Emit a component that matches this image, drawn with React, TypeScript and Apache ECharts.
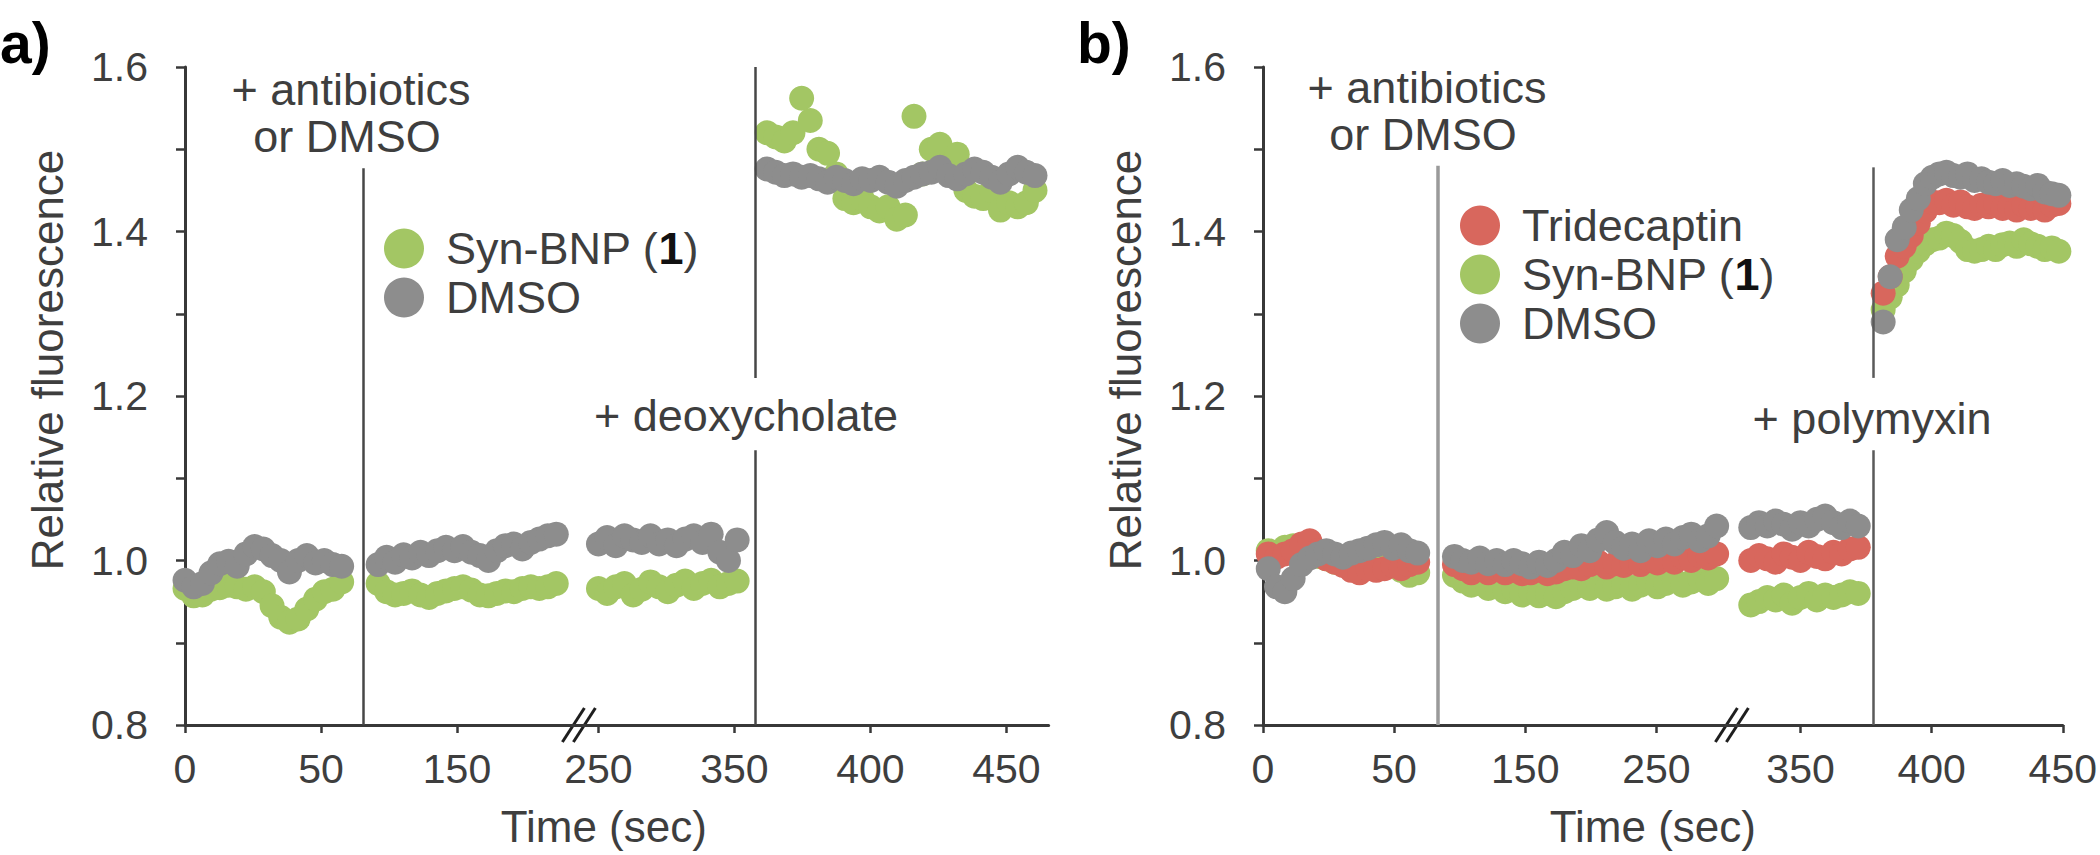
import React, { useEffect, useRef } from 'react';
import * as echarts from 'echarts';

// ---------- axis definitions (positions in axis units, one unit per label step) ----------
const tickLabels = ['0', '50', '150', '250', '350', '400', '450'];
const ticksA = [0, 1, 2, 3.04, 4.04, 5.04, 6.04];
const ticksB = [0, 1, 2, 3, 4.1, 5.1, 6.1];
const xMaxA = 6.35;
const xMaxB = 6.1;

// sampling windows of each recorded segment [start, end]
const segA = [[0, 1.152], [1.42, 2.73], [3.04, 4.06], [4.28, 6.25]];
const segB = [[0.04, 1.18], [1.46, 3.46], [3.72, 4.54], [4.73, 6.07]];

// ---------- panel a ----------
const aSyn1 = [0.966, 0.957, 0.958, 0.965, 0.967, 0.97, 0.968, 0.965, 0.968, 0.962, 0.945, 0.931, 0.925, 0.929, 0.941, 0.953, 0.962, 0.965, 0.974];
const aSyn2 = [0.972, 0.962, 0.958, 0.96, 0.963, 0.958, 0.955, 0.96, 0.963, 0.966, 0.968, 0.964, 0.958, 0.957, 0.96, 0.963, 0.962, 0.966, 0.968, 0.966, 0.968, 0.972];
const aSyn3 = [0.966, 0.96, 0.968, 0.972, 0.958, 0.965, 0.974, 0.968, 0.962, 0.97, 0.975, 0.966, 0.972, 0.976, 0.968, 0.972, 0.975];
const aSyn4 = [1.52, 1.515, 1.51, 1.52, 1.562, 1.535, 1.5, 1.495, 1.47, 1.44, 1.435, 1.44, 1.43, 1.425, 1.43, 1.415, 1.42, 1.54, 1.47, 1.5, 1.506, 1.48, 1.494, 1.45, 1.443, 1.44, 1.45, 1.426, 1.435, 1.43, 1.435, 1.45];

const aDmso1 = [0.976, 0.968, 0.972, 0.985, 0.996, 0.999, 0.993, 1.008, 1.017, 1.014, 1.006, 1.0, 0.986, 1.0, 1.006, 0.997, 1.0, 0.995, 0.993];
const aDmso2 = [0.995, 1.004, 0.998, 1.007, 1.003, 1.01, 1.006, 1.012, 1.016, 1.012, 1.017, 1.01, 1.006, 1.0, 1.012, 1.018, 1.02, 1.014, 1.022, 1.026, 1.03, 1.032];
const aDmso3 = [1.02, 1.028, 1.018, 1.03, 1.025, 1.022, 1.03, 1.02, 1.025, 1.018, 1.026, 1.03, 1.022, 1.032, 1.01, 1.0, 1.025];
const aDmso4 = [1.476, 1.472, 1.468, 1.47, 1.466, 1.468, 1.464, 1.46, 1.466, 1.462, 1.458, 1.464, 1.462, 1.466, 1.46, 1.455, 1.462, 1.466, 1.47, 1.472, 1.478, 1.468, 1.464, 1.47, 1.476, 1.472, 1.466, 1.46, 1.47, 1.478, 1.472, 1.468];

// ---------- panel b ----------
const bTri1 = [1.008, 1.004, 1.008, 1.012, 1.02, 1.024, 1.012, 1.002, 0.998, 0.994, 0.988, 0.985, 0.99, 0.988, 0.99, 0.994, 0.99, 0.995, 0.998];
const bTri2 = [0.995, 0.99, 0.985, 0.99, 0.985, 0.99, 0.985, 0.988, 0.984, 0.985, 0.988, 0.984, 0.986, 0.99, 0.992, 0.99, 0.995, 0.998, 0.992, 0.996, 0.994, 0.998, 0.995, 1.0, 0.997, 1.002, 0.998, 1.004, 1.0, 1.006, 1.003, 1.008];
const bTri3 = [1.0, 1.006, 1.002, 0.998, 1.008, 1.004, 1.0, 1.01, 1.005, 1.002, 1.01, 1.008, 1.014, 1.016];
const bTri4 = [1.325, 1.345, 1.37, 1.382, 1.395, 1.41, 1.425, 1.436, 1.435, 1.438, 1.432, 1.436, 1.43, 1.428, 1.432, 1.43, 1.434, 1.428, 1.43, 1.426, 1.432, 1.428, 1.43, 1.426, 1.432, 1.434];

const bSyn1 = [1.012, 1.009, 1.016, 1.018, 1.012, 1.008, 1.005, 1.002, 0.998, 1.002, 0.995, 0.992, 0.998, 0.995, 0.992, 0.995, 0.988, 0.982, 0.985];
const bSyn2 = [0.982, 0.975, 0.97, 0.972, 0.966, 0.968, 0.962, 0.965, 0.958, 0.962, 0.957, 0.96, 0.956, 0.962, 0.966, 0.97, 0.966, 0.972, 0.965, 0.968, 0.972, 0.965, 0.97, 0.974, 0.968, 0.972, 0.976, 0.97, 0.974, 0.978, 0.972, 0.978];
const bSyn3 = [0.946, 0.95, 0.955, 0.952, 0.958, 0.948, 0.955, 0.96, 0.952, 0.958, 0.955, 0.958, 0.962, 0.96];
const bSyn4 = [1.305, 1.32, 1.335, 1.352, 1.366, 1.376, 1.385, 1.39, 1.392, 1.398, 1.395, 1.388, 1.378, 1.376, 1.378, 1.382, 1.378, 1.384, 1.386, 1.382, 1.39, 1.385, 1.382, 1.378, 1.38, 1.376];

const bDmso1 = [0.99, 0.968, 0.962, 0.978, 0.995, 1.003, 1.008, 1.012, 1.008, 1.004, 1.009, 1.012, 1.015, 1.019, 1.022, 1.015, 1.019, 1.012, 1.009];
const bDmso2 = [1.005, 1.0, 0.998, 1.003, 0.996, 1.0, 0.995, 1.0, 0.996, 0.992, 0.998, 0.994, 1.0, 1.01, 1.006, 1.018, 1.012, 1.025, 1.034, 1.022, 1.015, 1.02, 1.012, 1.024, 1.018, 1.026, 1.02, 1.028, 1.032, 1.024, 1.03, 1.042];
const bDmso3 = [1.04, 1.046, 1.042, 1.048, 1.044, 1.038, 1.046, 1.042, 1.05, 1.054, 1.046, 1.04, 1.048, 1.042];
const bDmso4 = [1.29, 1.345, 1.39, 1.405, 1.426, 1.44, 1.458, 1.466, 1.47, 1.472, 1.468, 1.466, 1.47, 1.462, 1.464, 1.46, 1.458, 1.462, 1.456, 1.458, 1.455, 1.452, 1.456, 1.448, 1.446, 1.444];

// ---------- event lines [x, yTop, yBottom] and axis breaks ----------
const linesA = [[1.31, 1.477, 0.8], [4.19, 1.6, 1.222], [4.19, 1.134, 0.8]];
const linesB = [[1.336, 1.48, 0.8], [4.657, 1.478, 1.222], [4.657, 1.134, 0.8]];
const breakA = 2.9;
const breakB = 3.58;

const GREEN = '#a3c664';
const GRAY = '#8d8d8d';
const RED = '#d8675d';
const TXT = '#3e3e3e';
const AX = '#383838';
const FONT = '"Liberation Sans", Arial, Helvetica, sans-serif';

function build(segs: number[][], vals: number[][]) {
  const out: number[][] = [];
  segs.forEach((s, i) => {
    const v = vals[i];
    const n = v.length;
    for (let j = 0; j < n; j++) {
      out.push([s[0] + (j * (s[1] - s[0])) / (n - 1), v[j]]);
    }
  });
  return out;
}

function labelFor(ticks: number[], v: number) {
  const i = ticks.findIndex((t) => Math.abs(t - v) < 1e-6);
  return i >= 0 ? tickLabels[i] : '';
}

function mkX(gridIndex: number, max: number, ticks: number[], shift: number) {
  return {
    type: 'value',
    gridIndex,
    min: 0,
    max,
    name: 'Time (sec)',
    nameLocation: 'middle',
    nameGap: 79,
    nameTextStyle: { fontSize: 44, color: TXT, fontFamily: FONT, padding: [0, shift * 2, 0, 0] },
    axisLine: { show: true, onZero: false, lineStyle: { color: AX, width: 3 } },
    axisTick: { show: true, customValues: ticks, length: 8, lineStyle: { color: AX, width: 2.5 } },
    axisLabel: {
      customValues: ticks,
      margin: 23,
      fontSize: 41,
      color: TXT,
      fontFamily: FONT,
      formatter: (v: number) => labelFor(ticks, v),
    },
    splitLine: { show: false },
  };
}

function mkY(gridIndex: number) {
  return {
    type: 'value',
    gridIndex,
    min: 0.8,
    max: 1.6,
    interval: 0.1,
    name: 'Relative fluorescence',
    nameLocation: 'middle',
    nameGap: 116,
    nameTextStyle: { fontSize: 44, color: TXT, fontFamily: FONT, padding: [0, 0, 0, 72] },
    axisLine: { show: true, lineStyle: { color: AX, width: 3 } },
    axisTick: { show: true, length: 9, lineStyle: { color: AX, width: 2.5 } },
    axisLabel: {
      margin: 37,
      fontSize: 41,
      color: TXT,
      fontFamily: FONT,
      formatter: (v: number) => (Math.round(v * 10) % 2 === 0 ? v.toFixed(1) : ''),
    },
    splitLine: { show: false },
  };
}

function mkLegend(left: number, top: number, data: string[]) {
  return {
    orient: 'vertical',
    left,
    top,
    itemWidth: 74,
    itemHeight: 40,
    itemGap: 4,
    icon: 'circle',
    selectedMode: false,
    data,
    formatter: (name: string) => (name === 'Syn-BNP (1)' ? 'Syn-BNP ({b|1})' : name),
    textStyle: {
      fontSize: 45,
      color: TXT,
      fontFamily: FONT,
      rich: { b: { fontSize: 45, fontWeight: 'bold', color: '#111', fontFamily: FONT } },
    },
  };
}

function mkMarkLine(lines: number[][], color: string, width: number) {
  return {
    silent: true,
    symbol: ['none', 'none'],
    label: { show: false },
    lineStyle: { color, width, type: 'solid' },
    emphasis: { disabled: true },
    data: lines.map((l) => [{ coord: [l[0], l[1]] }, { coord: [l[0], l[2]] }]),
  };
}

function scatter(name: string, idx: number, data: number[][], color: string, extra: any = {}) {
  return {
    type: 'scatter',
    name,
    xAxisIndex: idx,
    yAxisIndex: idx,
    data,
    symbol: 'circle',
    symbolSize: 25,
    silent: true,
    itemStyle: { color, opacity: 1 },
    ...extra,
  };
}

export default function App() {
  const ref = useRef<HTMLDivElement>(null);
  useEffect(() => {
    if (!ref.current) return;
    const chart = echarts.init(ref.current, undefined, { renderer: 'svg', width: 2100, height: 855 });
    const option: any = {
      animation: false,
      backgroundColor: '#ffffff',
      grid: [
        { left: 185, top: 67, width: xMaxA * 136, height: 658 },
        { left: 1263, top: 67, width: xMaxB * 132.5, height: 658 },
      ],
      xAxis: [mkX(0, xMaxA, ticksA, 13), mkX(1, xMaxB, ticksB, 10)],
      yAxis: [mkY(0), mkY(1)],
      legend: [
        mkLegend(379, 221, ['Syn-BNP (1)', 'DMSO']),
        mkLegend(1455, 198, ['Tridecaptin', 'Syn-BNP (1)', 'DMSO']),
      ],
      series: [
        scatter('Syn-BNP (1)', 0, build(segA, [aSyn1, aSyn2, aSyn3, aSyn4]), GREEN),
        scatter('DMSO', 0, build(segA, [aDmso1, aDmso2, aDmso3, aDmso4]), GRAY, {
          markLine: mkMarkLine(linesA, '#474747', 2.5),
        }),
        scatter('Syn-BNP (1)', 1, build(segB, [bSyn1, bSyn2, bSyn3, bSyn4]), GREEN),
        scatter('Tridecaptin', 1, build(segB, [bTri1, bTri2, bTri3, bTri4]), RED),
        scatter('DMSO', 1, build(segB, [bDmso1, bDmso2, bDmso3, bDmso4]), GRAY, {
          markLine: {
            ...mkMarkLine(linesB, '#5a5a5a', 2.5),
            data: linesB.map((l, i) => [
              { coord: [l[0], l[1]], lineStyle: i === 0 ? { color: '#9a9a9a', width: 3.5 } : { color: '#5a5a5a', width: 2.5 } },
              { coord: [l[0], l[2]] },
            ]),
          },
        }),
      ],
    };
    chart.setOption(option);

    const txt = (text: string, x: number, y: number, size = 45, weight = 'normal', align = 'center') => ({
      type: 'text',
      x,
      y,
      silent: true,
      style: {
        text,
        fill: weight === 'bold' ? '#000' : TXT,
        font: `${weight} ${size}px ${FONT}`,
        fontSize: size,
        fontWeight: weight,
        fontFamily: FONT,
        align,
        textAlign: align,
        verticalAlign: 'middle',
        textVerticalAlign: 'middle',
      },
    });

    const brk = (gi: number, u: number) => {
      const p = chart.convertToPixel({ gridIndex: gi }, [u, 0.8]) as number[];
      const x = p[0];
      const y = p[1];
      const st = { stroke: '#1e1e1e', lineWidth: 3 };
      return [
        { type: 'line', silent: true, shape: { x1: x - 17, y1: y + 17, x2: x + 5, y2: y - 17 }, style: st },
        { type: 'line', silent: true, shape: { x1: x - 6, y1: y + 17, x2: x + 16, y2: y - 17 }, style: st },
      ];
    };

    chart.setOption({
      graphic: [
        txt('a)', 0, 43, 57, 'bold', 'left'),
        txt('b)', 1077, 43, 57, 'bold', 'left'),
        txt('+ antibiotics', 351, 89),
        txt('or DMSO', 347, 136),
        txt('+ deoxycholate', 746, 415),
        txt('+ antibiotics', 1427, 87),
        txt('or DMSO', 1423, 134),
        txt('+ polymyxin', 1872, 418),
        ...brk(0, breakA),
        ...brk(1, breakB),
      ],
    });
    return () => chart.dispose();
  }, []);
  return (
    <div
      ref={ref}
      style={{ position: 'fixed', left: 0, top: 0, width: 2100, height: 855, background: '#fff' }}
    />
  );
}
